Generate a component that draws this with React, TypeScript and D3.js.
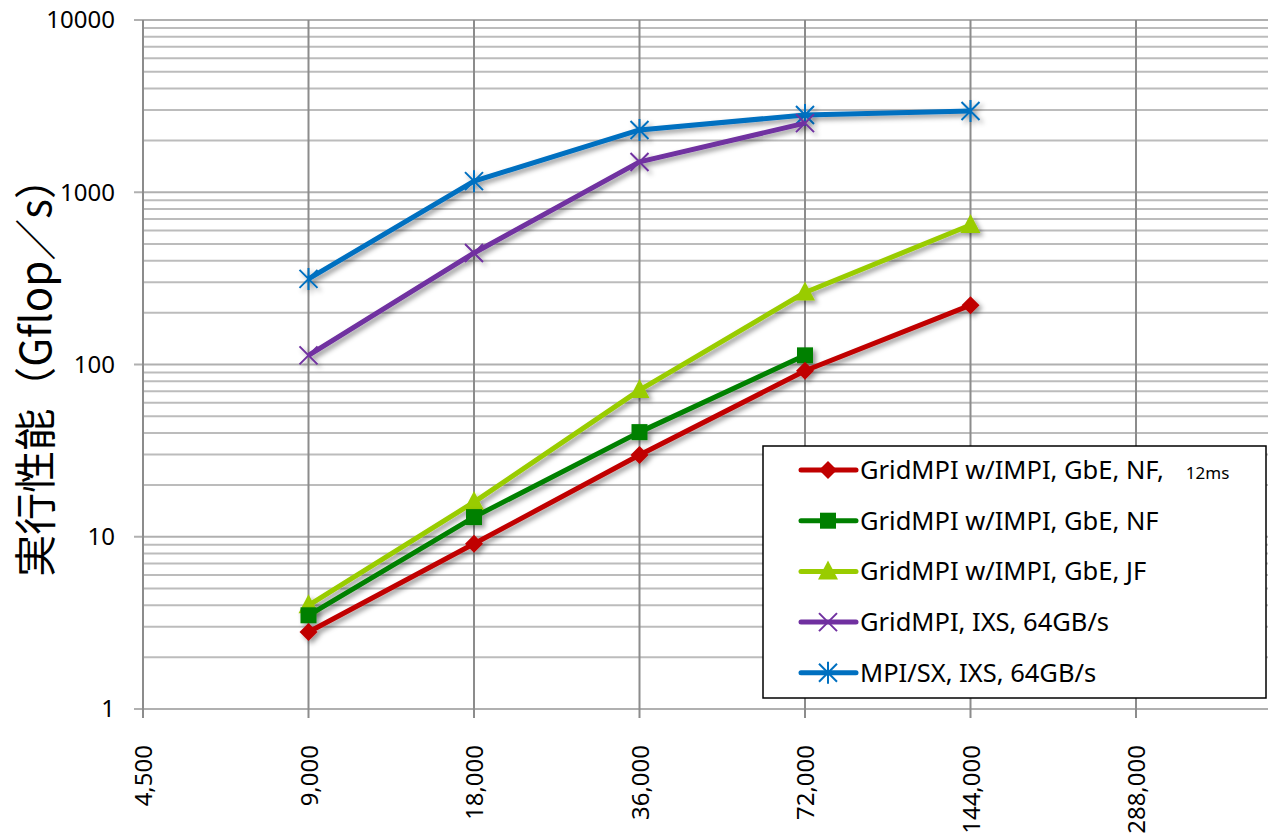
import React from "react";
import * as d3 from "d3";

const xValues = [9000, 18000, 36000, 72000, 144000];
const xTicks = [4500, 9000, 18000, 36000, 72000, 144000, 288000, 576000];
const yTicks = [1, 10, 100, 1000, 10000];

const redValues = [2.8, 9.1, 29.8, 92, 221];
const greenValues = [3.5, 13, 40.5, 113];
const limeValues = [4.0, 15.9, 71, 262, 645];
const purpleValues = [113, 444, 1500, 2520];
const blueValues = [314, 1160, 2300, 2810, 2960];

const seriesNames = [
  "GridMPI w/IMPI, GbE, NF,",
  "GridMPI w/IMPI, GbE, NF",
  "GridMPI w/IMPI, GbE, JF",
  "GridMPI, IXS, 64GB/s",
  "MPI/SX, IXS, 64GB/s",
];

type Series = { name: string; values: number[]; color: string; marker: string };

const series: Series[] = [
  { name: seriesNames[4], values: blueValues, color: "#0070c0", marker: "asterisk" },
  { name: seriesNames[3], values: purpleValues, color: "#7030a0", marker: "x" },
  { name: seriesNames[2], values: limeValues, color: "#99cc00", marker: "triangle" },
  { name: seriesNames[1], values: greenValues, color: "#008000", marker: "square" },
  { name: seriesNames[0], values: redValues, color: "#c00000", marker: "diamond" },
];

const W = 1268;
const H = 839;
const FONT = "'Noto Sans', 'Open Sans', sans-serif";

function Marker({ type, x, y, color }: { type: string; x: number; y: number; color: string }) {
  if (type === "diamond") {
    const s = 9;
    return <path d={`M${x},${y - s}L${x + s},${y}L${x},${y + s}L${x - s},${y}Z`} fill={color} />;
  }
  if (type === "square") {
    const s = 8;
    return <rect x={x - s} y={y - s} width={2 * s} height={2 * s} fill={color} />;
  }
  if (type === "triangle") {
    const s = 10;
    return <path d={`M${x},${y - s - 1}L${x + s},${y + s - 2}L${x - s},${y + s - 2}Z`} fill={color} />;
  }
  if (type === "x") {
    const s = 9;
    return (
      <path d={`M${x - s},${y - s}L${x + s},${y + s}M${x - s},${y + s}L${x + s},${y - s}`} stroke={color} strokeWidth={2} />
    );
  }
  const s = 9;
  return (
    <path
      d={`M${x - s},${y - s}L${x + s},${y + s}M${x - s},${y + s}L${x + s},${y - s}M${x},${y - s - 2}L${x},${y + s + 2}`}
      stroke={color}
      strokeWidth={2}
    />
  );
}

export default function App() {
  const x = d3.scaleLog().base(2).domain([4500, 288000]).range([143, 1136]);
  const y = d3.scaleLog().domain([1, 10000]).range([709, 20]);

  const minorY: number[] = [];
  for (let d = 1; d < 10000; d *= 10) {
    for (let k = 2; k <= 9; k++) minorY.push(d * k);
  }

  const line = d3
    .line<[number, number]>()
    .x((d) => x(d[0]))
    .y((d) => y(d[1]));

  const legendRows = [
    { name: seriesNames[0], color: "#c00000", marker: "diamond" },
    { name: seriesNames[1], color: "#008000", marker: "square" },
    { name: seriesNames[2], color: "#99cc00", marker: "triangle" },
    { name: seriesNames[3], color: "#7030a0", marker: "x" },
    { name: seriesNames[4], color: "#0070c0", marker: "asterisk" },
  ];

  return (
    <div style={{ position: "absolute", left: 0, top: 0 }}>
      <svg width={W} height={H} style={{ display: "block", background: "#fff" }}>
        <defs>
          <filter id="shadow" x="-10%" y="-10%" width="120%" height="130%">
            <feDropShadow dx={3} dy={3} stdDeviation={2.5} floodColor="#000" floodOpacity={0.4} />
          </filter>
        </defs>
        {/* minor horizontal grid */}
        {minorY.map((v) => (
          <line key={"m" + v} x1={143} x2={W} y1={y(v)} y2={y(v)} stroke="#bcbcbc" strokeWidth={2} />
        ))}
        {yTicks.map((v) => (
          <line key={"g" + v} x1={134} x2={W} y1={y(v)} y2={y(v)} stroke="#b0b0b0" strokeWidth={2} />
        ))}
        {/* vertical grid */}
        {xTicks.map((v) => (
          <line key={"v" + v} x1={x(v)} x2={x(v)} y1={20} y2={718} stroke="#8c8c8c" strokeWidth={2} />
        ))}
        {/* y labels */}
        {yTicks.map((v) => (
          <text key={"yl" + v} x={115} y={y(v)} dy="0.35em" textAnchor="end" fontFamily={FONT} fontSize={24} fill="#000">
            {v}
          </text>
        ))}
        {/* x labels */}
        {xTicks.slice(0, 7).map((v) => (
          <text
            key={"xl" + v}
            transform={`translate(${x(v) + 9},745) rotate(-90)`}
            textAnchor="end"
            fontFamily={FONT}
            fontSize={24}
            fill="#000"
          >
            {d3.format(",")(v)}
          </text>
        ))}
        {/* y title */}
        <text
          transform="translate(51,367) rotate(-90)"
          textAnchor="middle"
          fontFamily="'Noto Sans CJK JP', sans-serif"
          fontSize={42}
          fill="#000"
        >
          実行性能（Gflop／s）
        </text>
        {/* series */}
        {series.map((s) => {
          const pts: [number, number][] = s.values.map((v, i) => [xValues[i], v]);
          return (
            <g key={s.name + s.marker} filter="url(#shadow)">
              <path d={line(pts) || ""} fill="none" stroke={s.color} strokeWidth={5} strokeLinejoin="round" />
              {pts.map((p, i) => (
                <Marker key={i} type={s.marker} x={x(p[0])} y={y(p[1])} color={s.color} />
              ))}
            </g>
          );
        })}
        {/* legend */}
        <rect x={763} y={446} width={503} height={252} fill="#fff" stroke="#000" strokeWidth={1.5} />
        {legendRows.map((r, i) => {
          const cy = 470 + i * 50.7;
          return (
            <g key={"lg" + i}>
              <line x1={801} x2={856} y1={cy} y2={cy} stroke={r.color} strokeWidth={5} strokeLinecap="round" />
              <Marker type={r.marker} x={828} y={cy} color={r.color} />
              <text x={860} y={cy} dy="0.35em" fontFamily={FONT} fontSize={25.5} fill="#000">
                {r.name}
                {i === 0 ? (
                  <tspan fontSize={17} dx={22}>
                    12ms
                  </tspan>
                ) : null}
              </text>
            </g>
          );
        })}
      </svg>
    </div>
  );
}
